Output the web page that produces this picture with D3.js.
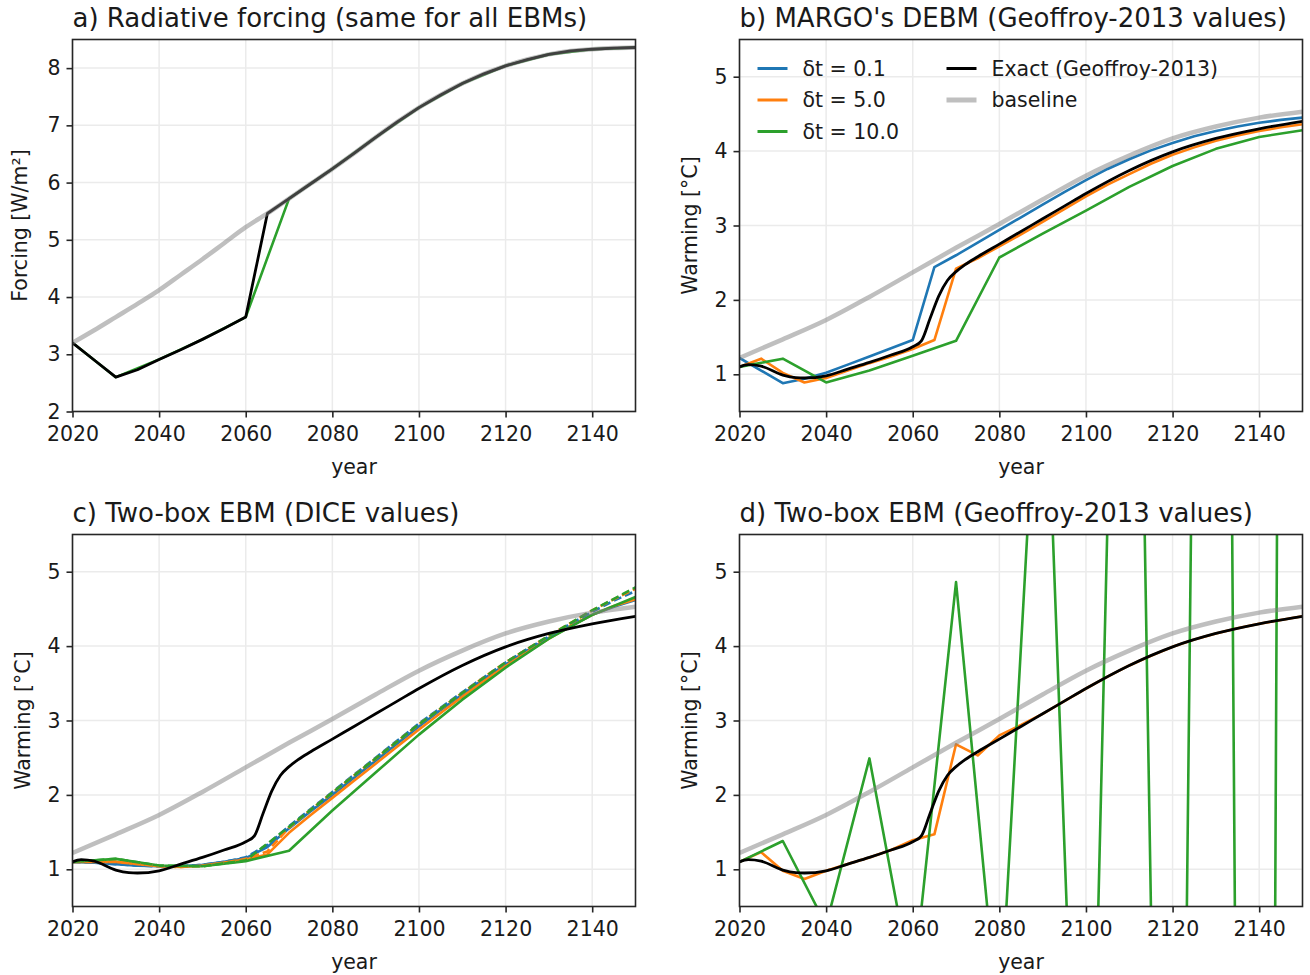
<!DOCTYPE html>
<html>
<head>
<meta charset="utf-8">
<script src="https://cdn.jsdelivr.net/npm/d3@7"></script>
<style>
  body { margin: 0; background: #fff; }
  svg text { font-family: "DejaVu Sans", sans-serif; fill: #1a1a1a; }
</style>
</head>
<body>
<svg id="fig" width="1310" height="975"></svg>
<script>
// ---- data ----
const years5 = d3.range(2020, 2151, 5);
const years10 = d3.range(2020, 2151, 10);

// panel a: radiative forcing [W/m2]
const forcingBaseline = [3.20, 3.42, 3.65, 3.88, 4.12, 4.39, 4.66, 4.94, 5.22, 5.46, 5.72, 5.98, 6.24, 6.51,
  6.79, 7.06, 7.31, 7.53, 7.73, 7.90, 8.04, 8.15, 8.24, 8.30, 8.33, 8.35, 8.36];
const forcingExact = [3.20, 2.90, 2.60, 2.73, 2.91, 3.08, 3.26, 3.45, 3.65, 5.46, 5.72, 5.98, 6.24, 6.51,
  6.79, 7.06, 7.31, 7.53, 7.73, 7.90, 8.04, 8.15, 8.24, 8.30, 8.33, 8.35, 8.36];
const forcingDt10 = [3.20, 2.60, 2.91, 3.26, 3.65, 5.72, 6.24, 6.79, 7.31, 7.73, 8.04, 8.24, 8.33, 8.36];

// warming [degC], shared curves
const baseYears = [2020, 2030, 2040, 2050, 2060, 2070, 2080, 2090, 2100, 2110, 2120, 2130, 2140, 2150];
const warmingBaseline = [1.22, 1.47, 1.73, 2.04, 2.37, 2.70, 3.02, 3.35, 3.67, 3.94, 4.17, 4.33, 4.45, 4.53];
const exactYears = [2020, 2022, 2025, 2030, 2033, 2035, 2040, 2045, 2050, 2055, 2060, 2062, 2064, 2066, 2068,
  2070, 2072, 2075, 2080, 2085, 2090, 2095, 2100, 2110, 2120, 2130, 2140, 2150];
const warmingExact = [1.10, 1.13, 1.11, 0.99, 0.955, 0.95, 0.98, 1.07, 1.16, 1.26, 1.37, 1.45, 1.75, 2.05, 2.26,
  2.38, 2.47, 2.58, 2.75, 2.92, 3.09, 3.26, 3.43, 3.74, 3.99, 4.17, 4.30, 4.40];

// panel b: MARGO DEBM
const debmDt01 = [1.22, 1.05, 0.88, 0.94, 1.02, 1.13, 1.24, 1.35, 1.46, 2.44, 2.60, 2.77, 2.94, 3.11, 3.28,
  3.45, 3.61, 3.76, 3.89, 4.01, 4.11, 4.20, 4.27, 4.33, 4.38, 4.42, 4.45];
const debmDt5 = [1.10, 1.21, 1.02, 0.89, 0.95, 1.05, 1.15, 1.24, 1.34, 1.46, 2.42, 2.56, 2.72, 2.88, 3.05,
  3.22, 3.39, 3.55, 3.69, 3.83, 3.95, 4.05, 4.14, 4.21, 4.27, 4.32, 4.36];
const debmDt10 = [1.10, 1.21, 0.89, 1.05, 1.25, 1.45, 2.57, 2.89, 3.20, 3.52, 3.80, 4.03, 4.19, 4.28];

// panel c: two-box EBM, DICE values (solid and dashed)
const diceDt01 = [1.10, 1.09, 1.07, 1.05, 1.04, 1.04, 1.06, 1.10, 1.15, 1.30, 1.55, 1.78, 2.00, 2.23, 2.46,
  2.69, 2.92, 3.14, 3.35, 3.56, 3.75, 3.94, 4.11, 4.27, 4.42, 4.53, 4.62];
const diceDt5 = [1.10, 1.10, 1.10, 1.07, 1.04, 1.03, 1.05, 1.09, 1.13, 1.20, 1.49, 1.73, 1.96, 2.19, 2.42,
  2.65, 2.88, 3.10, 3.32, 3.53, 3.73, 3.92, 4.10, 4.27, 4.42, 4.54, 4.63];
const diceDt10 = [1.10, 1.14, 1.05, 1.04, 1.11, 1.25, 1.79, 2.30, 2.81, 3.28, 3.71, 4.10, 4.42, 4.66];
const diceDt01Dash = [1.10, 1.09, 1.07, 1.05, 1.04, 1.04, 1.06, 1.10, 1.16, 1.33, 1.58, 1.81, 2.04, 2.27, 2.50,
  2.73, 2.96, 3.17, 3.38, 3.58, 3.78, 3.96, 4.13, 4.30, 4.46, 4.61, 4.74];
const diceDt5Dash = [1.10, 1.10, 1.10, 1.07, 1.04, 1.03, 1.05, 1.09, 1.14, 1.24, 1.56, 1.80, 2.03, 2.26, 2.49,
  2.72, 2.95, 3.16, 3.37, 3.58, 3.78, 3.96, 4.14, 4.31, 4.48, 4.63, 4.77];
const diceDt10Dash = [1.10, 1.14, 1.05, 1.04, 1.12, 1.57, 2.03, 2.49, 2.95, 3.37, 3.78, 4.14, 4.48, 4.79];

// panel d: two-box EBM, Geoffroy values
const boxDt5 = [1.10, 1.23, 0.98, 0.87, 0.98, 1.07, 1.16, 1.26, 1.39, 1.47, 2.68, 2.53, 2.80, 2.94, 3.09,
  3.26, 3.43, 3.59, 3.74, 3.87, 3.99, 4.09, 4.17, 4.24, 4.30, 4.35, 4.40];
const boxDt10 = [1.10, 1.38, 0.25, 2.49, -0.62, 4.86, -1.2, 9.2, -6.5, 18, -17, 36, -45, 78];

const xTicks = [2020, 2040, 2060, 2080, 2100, 2120, 2140];
const forcingTicks = [2, 3, 4, 5, 6, 7, 8];
const warmingTicks = [1, 2, 3, 4, 5];

const colors = { dt01: '#1f77b4', dt5: '#ff7f0e', dt10: '#2ca02c', exact: '#000000', baseline: '#808080' };
const legendItems = [
  { label: 'δt = 0.1', key: 'dt01' },
  { label: 'δt = 5.0', key: 'dt5' },
  { label: 'δt = 10.0', key: 'dt10' },
  { label: 'Exact (Geoffroy-2013)', key: 'exact' },
  { label: 'baseline', key: 'baseline' }
];

const zip = (xs, ys) => xs.map((x, i) => [x, ys[i]]);

// ---- layout ----
const W = 563, H = 372;
const svg = d3.select('#fig');

const panels = [
  { id: 'a', left: 72.5, top: 39.5, title: 'a) Radiative forcing (same for all EBMs)', ylabel: 'Forcing [W/m²]',
    domain: [2, 8.5], ticks: forcingTicks,
    series: [
      { x: years10, y: forcingDt10, c: 'dt10' },
      { x: years5, y: forcingExact, c: 'exact' },
      { x: years5, y: forcingBaseline, c: 'baseline', smooth: true }
    ] },
  { id: 'b', left: 739.5, top: 39.5, title: "b) MARGO's DEBM (Geoffroy-2013 values)", ylabel: 'Warming [°C]',
    domain: [0.5, 5.5], ticks: warmingTicks, legend: true,
    series: [
      { x: years5, y: debmDt01, c: 'dt01' },
      { x: years5, y: debmDt5, c: 'dt5' },
      { x: years10, y: debmDt10, c: 'dt10' },
      { x: exactYears, y: warmingExact, c: 'exact', smooth: true },
      { x: baseYears, y: warmingBaseline, c: 'baseline', smooth: true }
    ] },
  { id: 'c', left: 72.5, top: 534.5, title: 'c) Two-box EBM (DICE values)', ylabel: 'Warming [°C]',
    domain: [0.5, 5.5], ticks: warmingTicks,
    series: [
      { x: years5, y: diceDt01, c: 'dt01' },
      { x: years5, y: diceDt5, c: 'dt5' },
      { x: years10, y: diceDt10, c: 'dt10' },
      { x: years5, y: diceDt01Dash, c: 'dt01', dash: true },
      { x: years5, y: diceDt5Dash, c: 'dt5', dash: true },
      { x: years10, y: diceDt10Dash, c: 'dt10', dash: true },
      { x: exactYears, y: warmingExact, c: 'exact', smooth: true },
      { x: baseYears, y: warmingBaseline, c: 'baseline', smooth: true }
    ] },
  { id: 'd', left: 739.5, top: 534.5, title: 'd) Two-box EBM (Geoffroy-2013 values)', ylabel: 'Warming [°C]',
    domain: [0.5, 5.5], ticks: warmingTicks,
    series: [
      { x: years5, y: boxDt5, c: 'dt5' },
      { x: years10, y: boxDt10, c: 'dt10' },
      { x: exactYears, y: warmingExact, c: 'exact', smooth: true },
      { x: baseYears, y: warmingBaseline, c: 'baseline', smooth: true }
    ] }
];

function styleLine(sel, key) {
  if (key === 'baseline') {
    sel.attr('stroke', colors.baseline).attr('stroke-opacity', 0.5).attr('stroke-width', 4.5);
  } else {
    sel.attr('stroke', colors[key]).attr('stroke-width', key === 'exact' ? 2.8 : 2.6);
  }
}

panels.forEach((p) => {
  const g = svg.append('g').attr('transform', `translate(${p.left},${p.top})`);

  const x = d3.scaleLinear().domain([2020, 2150]).range([0, W]);
  const y = d3.scaleLinear().domain(p.domain).range([H, 0]);

  g.append('clipPath').attr('id', `clip-${p.id}`)
    .append('rect').attr('width', W).attr('height', H);

  // grid
  g.append('g').selectAll('line').data(xTicks).join('line')
    .attr('x1', (d) => x(d)).attr('x2', (d) => x(d)).attr('y1', 0).attr('y2', H)
    .attr('stroke', '#ebebeb').attr('stroke-width', 1.5);
  g.append('g').selectAll('line').data(p.ticks).join('line')
    .attr('y1', (d) => y(d)).attr('y2', (d) => y(d)).attr('x1', 0).attr('x2', W)
    .attr('stroke', '#ebebeb').attr('stroke-width', 1.5);

  // lines
  const plot = g.append('g').attr('clip-path', `url(#clip-${p.id})`);
  p.series.forEach((s) => {
    const line = d3.line()
      .x((d) => x(d[0])).y((d) => y(d[1]))
      .curve(s.smooth ? d3.curveMonotoneX : d3.curveLinear);
    const path = plot.append('path')
      .datum(zip(s.x, s.y))
      .attr('fill', 'none')
      .attr('stroke-linejoin', 'round')
      .attr('d', line)
      .call(styleLine, s.c);
    if (s.dash) path.attr('stroke-dasharray', '8,4');
  });

  // axes
  const axX = g.append('g').attr('transform', `translate(0,${H})`)
    .call(d3.axisBottom(x).tickValues(xTicks).tickFormat(d3.format('d')).tickSize(6).tickPadding(9));
  const axY = g.append('g')
    .call(d3.axisLeft(y).tickValues(p.ticks).tickFormat(d3.format('d')).tickSize(6).tickPadding(6));
  [axX, axY].forEach((ax) => {
    ax.select('.domain').remove();
    ax.selectAll('.tick line').attr('stroke', '#262626').attr('stroke-width', 1.6);
    ax.selectAll('.tick text').attr('font-size', 20.5).attr('fill', '#1a1a1a')
      .attr('font-family', '"DejaVu Sans", sans-serif');
  });

  // frame
  g.append('rect').attr('width', W).attr('height', H)
    .attr('fill', 'none').attr('stroke', '#262626').attr('stroke-width', 1.6);

  // labels
  g.append('text').attr('x', 0).attr('y', -13).attr('font-size', 26).text(p.title);
  g.append('text').attr('x', W / 2).attr('y', H + 62).attr('text-anchor', 'middle')
    .attr('font-size', 20.5).text('year');
  g.append('text')
    .attr('transform', `translate(${p.id === 'a' ? -46 : -43},${H / 2}) rotate(-90)`)
    .attr('text-anchor', 'middle').attr('font-size', 20.5).text(p.ylabel);

  if (p.legend) {
    const lg = g.append('g');
    legendItems.forEach((it, i) => {
      const col = i < 3 ? 0 : 1;
      const row = i < 3 ? i : i - 3;
      const lx = col === 0 ? 18 : 207;
      const ly = 29 + row * 31.5;
      lg.append('line').attr('x1', lx).attr('x2', lx + 30).attr('y1', ly).attr('y2', ly)
        .call(styleLine, it.key).attr('stroke-width', it.key === 'baseline' ? 5 : 3);
      lg.append('text').attr('x', lx + 45).attr('y', ly).attr('dy', '0.35em')
        .attr('font-size', 20.5).text(it.label);
    });
  }
});
</script>
</body>
</html>
